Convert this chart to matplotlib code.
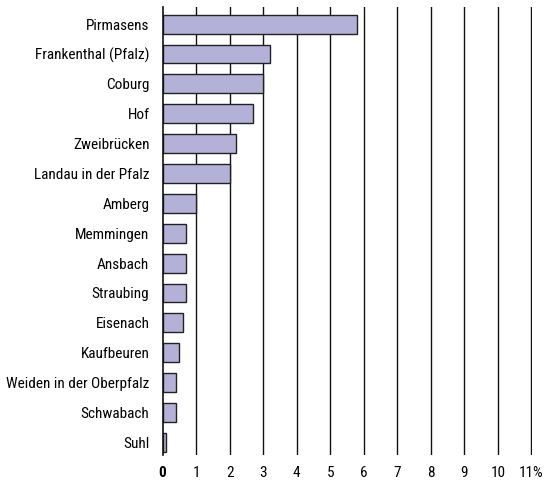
import matplotlib
matplotlib.use("Agg")
import matplotlib.pyplot as plt
from matplotlib import font_manager

cities = ["Pirmasens", "Frankenthal (Pfalz)", "Coburg", "Hof", "Zweibrücken",
          "Landau in der Pfalz", "Amberg", "Memmingen", "Ansbach", "Straubing",
          "Eisenach", "Kaufbeuren", "Weiden in der Oberpfalz", "Schwabach", "Suhl"]
values = [5.8, 3.2, 3.0, 2.7, 2.2, 2.0, 1.0, 0.7, 0.7, 0.7, 0.6, 0.5, 0.4, 0.4, 0.1]
xticks = list(range(0, 12))
xtick_labels = ["0", "1", "2", "3", "4", "5", "6", "7", "8", "9", "10", "11%"]

names = sorted({f.name for f in font_manager.fontManager.ttflist})
cands = ["Liberation Sans Narrow", "DejaVu Sans Condensed", "Roboto Condensed",
         "Open Sans Condensed", "Noto Sans Condensed", "Roboto"]
fam = next((c for c in cands if c in names), "DejaVu Sans")
plt.rcParams['font.family'] = [fam, 'DejaVu Sans']

fig = plt.figure(figsize=(5.53, 4.87), dpi=100)
ax = fig.add_axes([0.294, 0.066, 0.668, 0.92])

pos = list(range(len(cities)))
ax.barh(pos, values, height=0.63, color="#b4b1d8", edgecolor="#222222", linewidth=1.0, zorder=3)
ax.set_ylim(len(cities) - 0.58, -0.58)
ax.set_xlim(0, 11.02)
ax.set_xticks(xticks)
ax.set_xticklabels(xtick_labels, fontsize=11)
ax.get_xticklabels()[0].set_fontweight("bold")
ax.set_yticks(pos)
ax.set_yticklabels(cities, fontsize=11)
ax.tick_params(axis='y', length=0, pad=9.5)
ax.tick_params(axis='x', length=0, pad=8)
for x in xticks[1:]:
    ax.axvline(x, color="#111111", linewidth=1.0, zorder=1)
for s in ["top", "right", "bottom"]:
    ax.spines[s].set_visible(False)
ax.spines["left"].set_color("#111111")
ax.spines["left"].set_linewidth(1.2)
ax.spines["left"].set_zorder(4)

fig.savefig("out.png", dpi=100)
